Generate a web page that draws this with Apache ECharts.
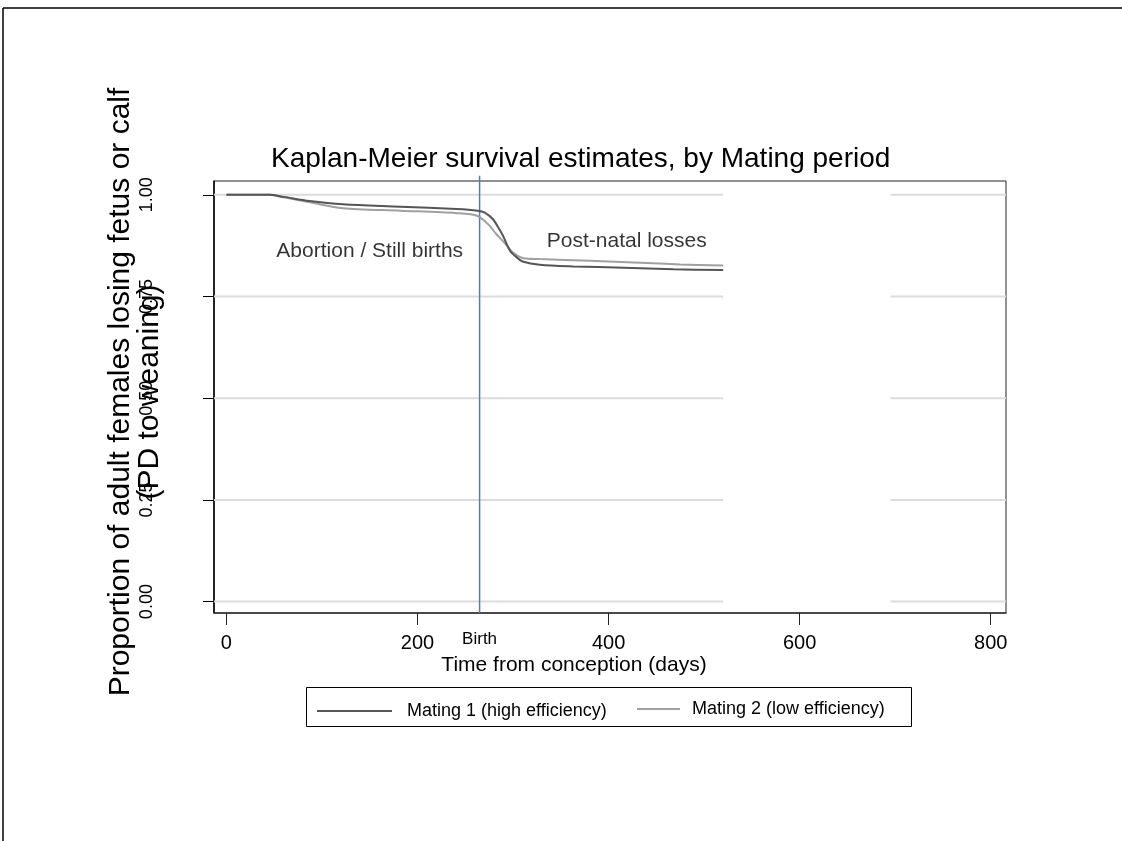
<!DOCTYPE html>
<html>
<head>
<meta charset="utf-8">
<title>Kaplan-Meier survival estimates, by Mating period</title>
<script src="https://cdn.jsdelivr.net/npm/echarts@6/dist/echarts.min.js"></script>
<style>
  html, body { margin: 0; padding: 0; background: #fff; }
  #chart { width: 1122px; height: 841px; }
</style>
</head>
<body>
<div id="chart"></div>
<script>
// Survival curves: time from conception (days) and proportion still carrying
const mating1Days = [0, 45, 60, 87, 122, 182, 241, 263, 270, 279, 286, 290, 297, 304, 310, 328, 363, 416, 468, 520];
const mating1Surv = [1, 1, 0.995, 0.985, 0.977, 0.971, 0.965, 0.961, 0.957, 0.94, 0.914, 0.897, 0.862, 0.846, 0.836, 0.828, 0.824, 0.821, 0.817, 0.815];
const mating2Days = [0, 45, 60, 87, 122, 182, 241, 263, 275, 282, 291, 300, 311, 328, 380, 433, 475, 520];
const mating2Surv = [1, 1, 0.994, 0.982, 0.967, 0.961, 0.955, 0.948, 0.925, 0.905, 0.882, 0.858, 0.844, 0.842, 0.838, 0.833, 0.829, 0.826];

const seriesNames = ['Mating 1 (high efficiency)', 'Mating 2 (low efficiency)'];
const xTicks = [0, 200, 400, 600, 800];
const yTicks = [0, 0.25, 0.5, 0.75, 1];
const birthDay = 265;
const notes = [
  { day: 150, surv: 0.865, text: 'Abortion / Still births' },
  { day: 419, surv: 0.889, text: 'Post-natal losses' }
];

// axis extents and the horizontal reference-line segments
const X_MIN = -13, X_MAX = 816;
const Y_MIN = -0.028, Y_MAX = 1.034;
const BIRTH_TOP = 1.047;
const GRID_SEGMENTS = [[X_MIN, 520], [695, X_MAX]];

const FONT = "'Liberation Sans', Arial, Helvetica, sans-serif";

const pairs = (xs, ys) => xs.map((x, i) => [x, ys[i]]);

// light grey reference lines, broken into segments with '-' gaps
const gridData = [];
yTicks.forEach(v => {
  GRID_SEGMENTS.forEach(([a, b]) => {
    gridData.push([a, v], [b, v], [b, '-']);
  });
});

const chart = echarts.init(document.getElementById('chart'), null, { renderer: 'canvas' });

chart.setOption({
  animation: false,
  backgroundColor: '#fff',
  textStyle: { fontFamily: FONT },
  title: {
    text: 'Kaplan-Meier survival estimates, by Mating period',
    left: 271,
    top: 145,
    padding: 0,
    textStyle: { fontSize: 28, fontWeight: 'normal', color: '#000', fontFamily: FONT }
  },
  grid: {
    left: 214, top: 181, width: 792, height: 432,
    show: true, borderColor: '#222', borderWidth: 1, backgroundColor: '#fff'
  },
  legend: [
    {
      data: [seriesNames[0]],
      left: 317, top: 702, padding: 0,
      icon: 'rect', itemWidth: 75, itemHeight: 2,
      textStyle: { fontSize: 18, color: '#000', fontFamily: FONT, padding: [0, 0, 0, 10] },
      selectedMode: false
    },
    {
      data: [seriesNames[1]],
      left: 637, top: 700, padding: 0,
      icon: 'rect', itemWidth: 43, itemHeight: 2,
      textStyle: { fontSize: 18, color: '#000', fontFamily: FONT, padding: [0, 0, 0, 7] },
      selectedMode: false
    }
  ],
  xAxis: {
    type: 'value',
    min: X_MIN, max: X_MAX,
    name: 'Time from conception (days)',
    nameLocation: 'middle',
    nameGap: 42,
    nameMoveOverlap: false,
    nameTextStyle: { fontSize: 21, color: '#000', fontFamily: FONT, padding: [0, 72, 0, 0] },
    axisLine: { show: true, onZero: false, lineStyle: { color: '#333', width: 1.5 } },
    axisTick: { show: true, length: 12, customValues: xTicks, lineStyle: { color: '#222' } },
    axisLabel: { customValues: xTicks, fontSize: 20, color: '#000', margin: 20, fontFamily: FONT },
    splitLine: { show: false }
  },
  yAxis: {
    type: 'value',
    min: Y_MIN, max: Y_MAX,
    name: 'Proportion of adult females losing fetus or calf\n(PD to weaning)',
    nameLocation: 'middle',
    nameRotate: 90,
    nameGap: 50,
    nameMoveOverlap: false,
    nameTextStyle: { fontSize: 30, color: '#000', lineHeight: 29, fontFamily: FONT, align: 'center', padding: [0, 0, 0, 10] },
    axisLine: { show: true, onZero: false, lineStyle: { color: '#000', width: 1.5 } },
    axisTick: { show: true, length: 11, customValues: yTicks, lineStyle: { color: '#000' } },
    axisLabel: {
      customValues: yTicks, rotate: 90, fontSize: 18, color: '#000', margin: 58, fontFamily: FONT,
      formatter: v => v.toFixed(2)
    },
    splitLine: { show: false }
  },
  series: [
    {
      name: 'reference lines',
      type: 'line',
      data: gridData,
      showSymbol: false,
      symbol: 'none',
      silent: true,
      lineStyle: { color: '#dcdcdc', width: 2 },
      z: 1
    },
    {
      name: 'Birth',
      type: 'line',
      clip: false,
      silent: true,
      symbol: 'circle',
      symbolSize: 0,
      showSymbol: true,
      lineStyle: { color: '#4f7db8', width: 1.5 },
      itemStyle: { color: '#4f7db8' },
      data: [
        { value: [birthDay, BIRTH_TOP] },
        {
          value: [birthDay, Y_MIN],
          label: { show: true, position: 'bottom', distance: 18, formatter: 'Birth', fontSize: 17, color: '#000', fontFamily: FONT }
        }
      ],
      z: 2
    },
    {
      name: seriesNames[0],
      type: 'line',
      data: pairs(mating1Days, mating1Surv),
      symbol: 'none',
      smooth: 0.3,
      lineStyle: { color: '#555555', width: 2 },
      itemStyle: { color: '#555555' },
      z: 4
    },
    {
      name: seriesNames[1],
      type: 'line',
      data: pairs(mating2Days, mating2Surv),
      symbol: 'none',
      smooth: 0.3,
      lineStyle: { color: '#a0a0a0', width: 2 },
      itemStyle: { color: '#a0a0a0' },
      z: 3
    },
    {
      name: 'notes',
      type: 'scatter',
      data: notes.map(n => ({ value: [n.day, n.surv], name: n.text })),
      symbolSize: 0,
      silent: true,
      label: {
        show: true, position: 'top', distance: 0, offset: [0, 12], formatter: p => p.name,
        fontSize: 21, color: '#000', fontFamily: FONT
      },
      z: 5
    }
  ],
  graphic: [
    // outer frame (top and left edges)
    { type: 'line', shape: { x1: 3, y1: 8, x2: 1122, y2: 8 }, style: { stroke: '#000', lineWidth: 1.5 } },
    { type: 'line', shape: { x1: 3, y1: 8, x2: 3, y2: 841 }, style: { stroke: '#000', lineWidth: 1.5 } },
    // legend box
    { type: 'rect', shape: { x: 306.5, y: 687.5, width: 605, height: 39 }, style: { fill: 'none', stroke: '#000', lineWidth: 1 }, z: -1 }
  ]
});
</script>
</body>
</html>
